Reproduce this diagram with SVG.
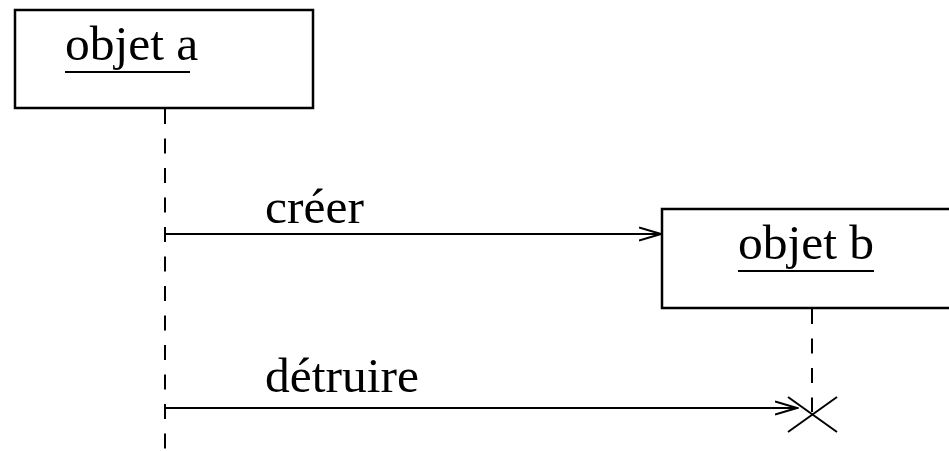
<svg xmlns="http://www.w3.org/2000/svg" width="949" height="451" viewBox="0 0 949 451">
<style>
.box{fill:#fff;stroke:#000;stroke-width:2.5}
.t{font-family:"Liberation Serif","Times New Roman",serif;font-size:49.5px;fill:#000}
.ul{stroke:#000;stroke-width:2.2}
.life{stroke:#000;stroke-width:2;stroke-dasharray:15 14.5;fill:none}
.msg{stroke:#000;stroke-width:2;fill:none}
</style>
<defs>
<marker id="open" viewBox="0 0 24 16" refX="22" refY="8" markerWidth="24" markerHeight="16" markerUnits="userSpaceOnUse" orient="auto">
<path d="M0,1.5 L22,8 L0,14.5" fill="none" stroke="#000" stroke-width="2"/>
</marker>
</defs>
<g id="lifelines">
<line class="life" x1="165" y1="109" x2="165" y2="451"/>
<line class="life" x1="812" y1="309" x2="812" y2="412"/>
</g>
<g id="objet-a">
<rect class="box" x="15" y="10" width="298" height="98"/>
<text class="t" x="65" y="60">objet a</text>
<line class="ul" x1="65" y1="72" x2="190" y2="72"/>
</g>
<g id="objet-b">
<rect class="box" x="662" y="209" width="300" height="99"/>
<text class="t" x="738" y="259">objet b</text>
<line class="ul" x1="738" y1="271" x2="874" y2="271"/>
</g>
<g id="destruction">
<line class="msg" x1="788" y1="397" x2="837" y2="432"/>
<line class="msg" x1="837" y1="397" x2="788" y2="432"/>
</g>
<g id="connectors">
<line class="msg" x1="165" y1="234" x2="661" y2="234" marker-end="url(#open)"/>
<text class="t" x="265" y="223">créer</text>
<line class="msg" x1="165" y1="408" x2="797" y2="408" marker-end="url(#open)"/>
<text class="t" x="265" y="392">détruire</text>
</g>
</svg>
